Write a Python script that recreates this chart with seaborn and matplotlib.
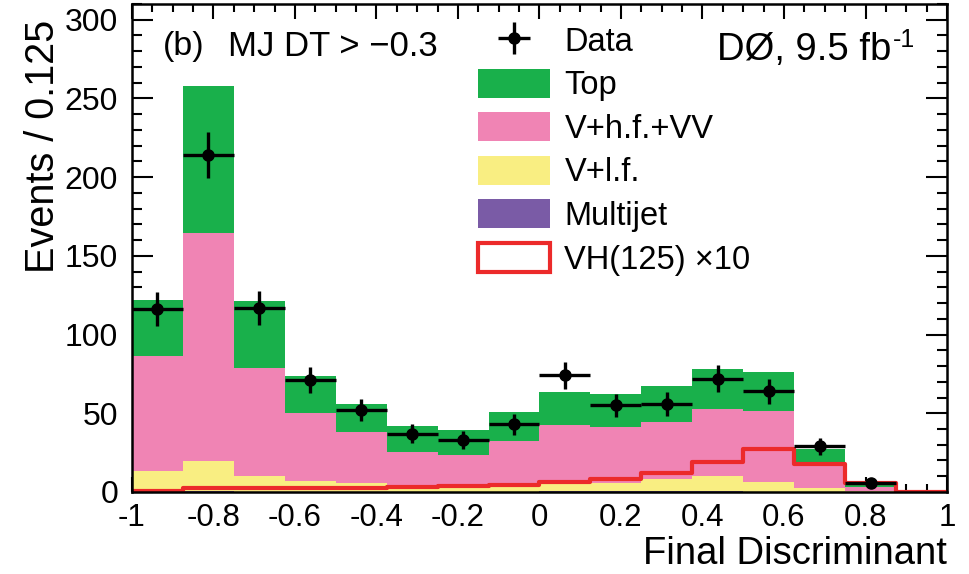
import numpy as np
import pandas as pd
import matplotlib
matplotlib.use("Agg")
import matplotlib.pyplot as plt
from matplotlib.patches import Patch
from matplotlib.ticker import MultipleLocator, FixedLocator
import seaborn as sns

# Binning of the final discriminant (16 bins of width 0.125)
bin_edges = [round(-1.0 + 0.125 * i, 3) for i in range(17)]
bin_centers = [0.5 * (a + b) for a, b in zip(bin_edges[:-1], bin_edges[1:])]

# Expected background yields per bin
top = [35.4, 93.4, 42.8, 23.3, 17.7, 16.2, 15.9, 18.3, 20.6, 21.2, 22.7, 25.8, 24.3, 9.7, 2.1, 0.0]
v_hf_vv = [73.3, 144.9, 68.8, 43.6, 32.4, 21.4, 19.5, 27.6, 37.8, 35.6, 36.7, 42.4, 45.1, 15.3, 2.9, 0.0]
v_lf = [13.0, 19.2, 9.7, 6.6, 5.7, 3.8, 3.8, 4.7, 4.4, 5.0, 7.6, 9.8, 6.3, 2.2, 0.5, 0.0]
multijet = [0.3, 0.5, 0.3, 0.2, 0.2, 0.2, 0.2, 0.3, 0.6, 0.5, 0.4, 0.4, 0.3, 0.1, 0.0, 0.0]

# Signal expectation scaled by 10
vh125_x10 = [0.5, 2.3, 2.5, 2.5, 2.5, 3.0, 3.5, 4.3, 6.5, 8.0, 11.8, 19.3, 27.1, 17.8, 5.9, 0.2]

# Observed events
data = [116, 214, 117, 71, 52, 37, 33, 43, 74, 55, 56, 72, 64, 29, 6, 0]

process_labels = ["Top", "V+h.f.+VV", "V+l.f.", "Multijet"]
process_colors = ["#19b04b", "#f084b4", "#f9ee82", "#7a5ba6"]
signal_color = "#ec2a2a"

sns.set_theme(style="ticks")
plt.rcParams["font.family"] = ["Liberation Sans", "DejaVu Sans"]
plt.rcParams["axes.unicode_minus"] = False
plt.rcParams["text.color"] = "black"
plt.rcParams["axes.labelcolor"] = "black"
plt.rcParams["xtick.color"] = "black"
plt.rcParams["ytick.color"] = "black"

fig = plt.figure(figsize=(9.69, 5.74), dpi=100)
ax = fig.add_axes([0.1362, 0.1429, 0.8411, 0.8501])

# Stacked backgrounds
bkg = pd.DataFrame({
    "x": bin_centers * 4,
    "w": top + v_hf_vv + v_lf + multijet,
    "process": [p for p in process_labels for _ in bin_centers],
})
sns.histplot(data=bkg, x="x", weights="w", hue="process", hue_order=process_labels,
             palette=process_colors, bins=bin_edges, multiple="stack",
             element="step", fill=True, alpha=1.0, linewidth=0, legend=False, ax=ax)

# Signal outline
sig = pd.DataFrame({"x": bin_centers, "w": vh125_x10})
sns.histplot(data=sig, x="x", weights="w", bins=bin_edges, element="step", fill=False,
             color=signal_color, linewidth=3, ax=ax)

# Data with Poisson errors
cx = np.array(bin_centers)
data_arr = np.array(data, dtype=float)
mask = data_arr > 0
eb = ax.errorbar(cx[mask], data_arr[mask], xerr=0.0625, yerr=np.sqrt(data_arr[mask]),
                 fmt="o", color="black", markersize=8, elinewidth=2.4, capsize=0, zorder=10)

ax.set_xlim(-1, 1)
ax.set_ylim(0, 310)

# ROOT-style inward ticks on all sides
xt = np.round(np.arange(-1.0, 1.01, 0.2), 2)
ax.xaxis.set_major_locator(FixedLocator(xt))
ax.xaxis.set_minor_locator(MultipleLocator(0.05))
ax.yaxis.set_major_locator(MultipleLocator(50))
ax.yaxis.set_minor_locator(MultipleLocator(10))
ax.set_xticklabels(["{:g}".format(v) if abs(v) > 1e-9 else "0" for v in xt])
ax.tick_params(axis="both", which="both", direction="in", top=True, right=True,
               width=1.5, color="black", labelcolor="black")
ax.tick_params(axis="x", which="major", length=11, pad=8, labelsize=22.5)
ax.tick_params(axis="x", which="minor", length=6)
ax.tick_params(axis="y", which="major", length=15, pad=10, labelsize=23)
ax.tick_params(axis="y", which="minor", length=7.5)
for s in ax.spines.values():
    s.set_linewidth(1.8)
    s.set_color("black")
    s.set_visible(True)

ax.set_xlabel("Final Discriminant", fontsize=27.5, loc="right", color="black")
ax.xaxis.set_label_coords(1.0, -0.09)
ax.set_ylabel("Events / 0.125", fontsize=28.5, loc="top", color="black")
ax.yaxis.set_label_coords(-0.086, 0.967)

# Annotations
ax.text(0.038, 0.912, "(b)", transform=ax.transAxes, fontsize=24.5, va="center", ha="left")
ax.text(0.118, 0.912, "MJ DT > \u22120.3", transform=ax.transAxes, fontsize=25,
        va="center", ha="left")
t = ax.text(0.718, 0.885, "D\u00d8, 9.5 fb", transform=ax.transAxes, fontsize=27.5,
            va="baseline", ha="left")
ax.annotate("-1", xy=(1.0, 1.0), xycoords=t, xytext=(1, 3), textcoords="offset points",
            fontsize=18, ha="left", va="top")

# Legend
handles = [eb] + [Patch(facecolor=c, edgecolor="none") for c in process_colors] + \
          [Patch(facecolor="white", edgecolor=signal_color, linewidth=3)]
labels = ["Data"] + process_labels + ["VH(125) \u00d710"]
leg = ax.legend(handles, labels, loc="upper left", bbox_to_anchor=(0.4245, 0.957),
                frameon=False, fontsize=23.5, handlelength=2.2, handleheight=1.0,
                labelspacing=0.33, handletextpad=0.45, borderpad=0, borderaxespad=0)

fig.savefig("out.png", dpi=100)
